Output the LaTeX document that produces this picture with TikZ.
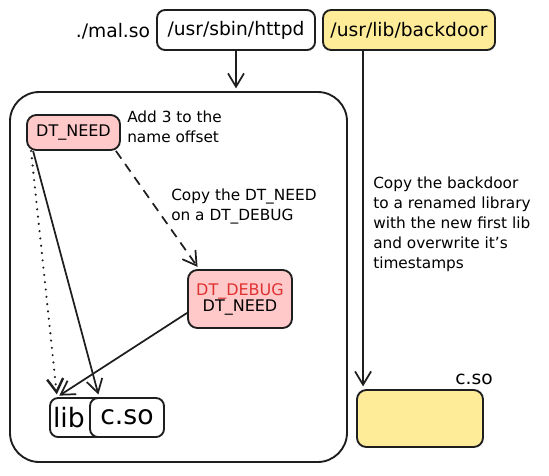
\documentclass[tikz,border=0pt]{standalone}
\usepackage{fontspec}
\setmainfont{DejaVu Sans}
\usetikzlibrary{arrows.meta,positioning}
\definecolor{inkdark}{HTML}{1E1E1E}
\definecolor{needpink}{HTML}{FFC9C9}
\definecolor{libyellow}{HTML}{FFEC99}
\definecolor{debugred}{HTML}{E03131}
\newlength{\pxu}
\setlength{\pxu}{0.75pt}
\tikzset{
  pathbox/.style={
    rectangle, rounded corners=6pt, draw=inkdark, line width=1.4pt,
    fill=white, minimum height=40\pxu, inner sep=1pt,
    font=\fontsize{14}{16}\selectfont
  },
  tagbox/.style={
    rectangle, rounded corners=7pt, draw=inkdark, line width=1.4pt,
    fill=needpink, align=center, inner sep=1pt,
    font=\fontsize{12}{12}\selectfont
  },
  libbox/.style={
    rectangle, rounded corners=6pt, draw=inkdark, line width=1.4pt,
    fill=white, minimum height=39\pxu, inner sep=0pt,
    font=\fontsize{20}{20}\selectfont
  },
  notetext/.style={
    anchor=north west, align=left, inner sep=0pt,
    font=\fontsize{11.5}{15}\selectfont
  },
  flowarrow/.style={-{Straight Barb[length=10pt,width=12pt]}, line width=1.3pt, color=inkdark, shorten >=2pt},
}

\begin{document}
\begin{tikzpicture}[x=0.75pt,y=-0.75pt]
  \useasboundingbox (0,0) rectangle (549,475);
  \node[inner sep=0pt, font=\fontsize{14}{16}\selectfont] (mal) at (113,31) {./mal.so};
  \node[pathbox, minimum width=158\pxu] (httpd) at (236,30) {/usr/sbin/httpd};
  \node[pathbox, fill=libyellow, minimum width=172\pxu] (backdoor) at (409,30) {/usr/lib/backdoor};
  \node[draw=inkdark, line width=1.4pt, rounded corners=22pt,
        minimum width=337\pxu, minimum height=370\pxu] (frame) at (178.5,277) {};
  \node[tagbox, minimum width=93\pxu, minimum height=35\pxu] (need) at (73.5,132.5) {DT\_NEED};
  \node[notetext] (addnote) at (127,111) {Add 3 to the\\name offset};
  \node[notetext] (copynote) at (171,189) {Copy the DT\_NEED\\on a DT\_DEBUG};
  \node[tagbox, minimum width=104\pxu, minimum height=58\pxu] (debug) at (240,299)
    {\textcolor{debugred}{DT\_DEBUG}\\DT\_NEED};
  \node[libbox, minimum width=56\pxu, text width=50\pxu, align=left] (lib) at (78,417.5) {lib};
  \node[libbox, minimum width=74\pxu] (cso) at (127,417.5) {c.so};
  \node[notetext] (bdnote) at (373,177)
    {Copy the backdoor\\to a renamed library\\with the new first lib\\and overwrite it's\\timestamps};
  \node[inner sep=0pt, font=\fontsize{14}{16}\selectfont] (csolabel) at (474,379) {c.so};
  \node[tagbox, fill=libyellow, minimum width=126\pxu, minimum height=57\pxu] (newlib) at (420,418.5) {};
  \coordinate (bdout) at ([xshift=41\pxu]backdoor.south west);
  \draw[flowarrow] (httpd.south) -- (httpd.south |- frame.north);
  \draw[flowarrow] (bdout) -- (bdout |- newlib.north);
  \draw[flowarrow, dash pattern=on 7pt off 5pt] ([xshift=-5\pxu]need.south east) -- ([xshift=12\pxu]debug.north west);
  \draw[flowarrow] ([xshift=7\pxu]need.south west) -- ([xshift=10\pxu]cso.north west);
  \draw[flowarrow, line width=1.8pt, line cap=round, dash pattern=on 0pt off 5.5pt] ([xshift=5\pxu]need.south west) -- ([xshift=8\pxu]lib.north west);
  \draw[flowarrow] ([yshift=16\pxu]debug.south west) -- ([xshift=8\pxu]lib.north west);
\end{tikzpicture}
\end{document}
